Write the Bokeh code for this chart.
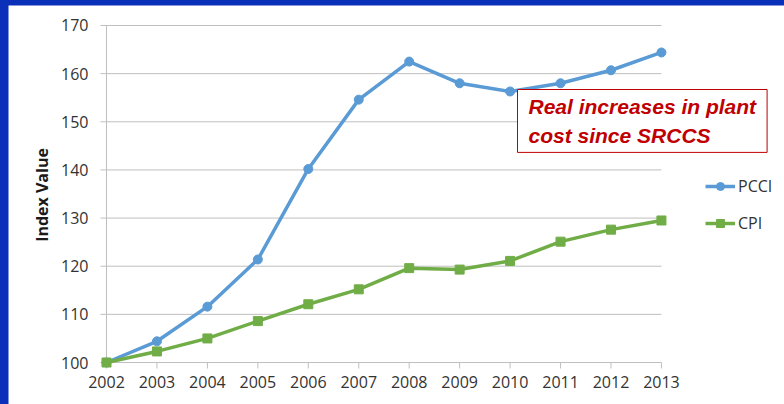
import math
from bokeh.plotting import figure
from bokeh.models import (Range1d, Legend, LegendItem, Label, ColumnDataSource)
from bokeh.core.properties import value
from bokeh.layouts import column
from bokeh.embed import file_html
from bokeh.resources import INLINE

years = [2002, 2003, 2004, 2005, 2006, 2007, 2008, 2009, 2010, 2011, 2012, 2013]
pcci = [100.0, 104.4, 111.6, 121.4, 140.2, 154.6, 162.5, 158.0, 156.3, 158.0, 160.7, 164.4]
cpi = [100.0, 102.3, 105.0, 108.6, 112.1, 115.2, 119.6, 119.3, 121.1, 125.1, 127.6, 129.5]
y_ticks = [100, 110, 120, 130, 140, 150, 160, 170]
series_names = ["PCCI", "CPI"]
y_title = "Index Value"
note_text = "Real increases in plant\ncost since SRCCS"

BLUE = "#5B9BD5"
GREEN = "#70AD47"
GRID = "#BFBFBF"
TXT = "#333333"
FONT = "Open Sans"

# the frame fills the whole figure so nothing is clipped
p = figure(width=776, height=399, output_backend="svg", toolbar_location=None, tools="",
           x_range=Range1d(2000.0575, 2015.439), y_range=Range1d(91.276, 174.154),
           x_axis_type=None, y_axis_type=None, min_border=0)
p.margin = (5, 0, 0, 8)
p.outline_line_color = None
p.background_fill_color = "white"
p.border_fill_color = "white"
p.xgrid.visible = False
p.ygrid.visible = False

x0, x1 = years[0], years[-1]
y0, y1 = y_ticks[0], y_ticks[-1]

# gridlines
gsrc = ColumnDataSource(dict(x0=[x0] * (len(y_ticks) - 1), x1=[x1] * (len(y_ticks) - 1), y=y_ticks[1:]))
p.segment(x0="x0", x1="x1", y0="y", y1="y", source=gsrc, line_color=GRID, line_width=1)
# axis lines
p.segment(x0=[x0, x0], y0=[y0, y0], x1=[x1, x0], y1=[y0, y1], line_color=GRID, line_width=1)
# tick stubs
p.ray(x=years, y=[y0] * len(years), length=6, length_units="screen", angle=-math.pi / 2,
      line_color=GRID, line_width=1)
p.ray(x=[x0] * len(y_ticks), y=y_ticks, length=6, length_units="screen", angle=math.pi,
      line_color=GRID, line_width=1)
# tick labels
p.text(x=years, y=[y0] * len(years), text=[str(v) for v in years], y_offset=13,
       text_align="center", text_baseline="top", text_font=value(FONT),
       text_font_size="16px", text_color=TXT)
p.text(x=[x0] * len(y_ticks), y=y_ticks, text=[str(v) for v in y_ticks], x_offset=-18,
       text_align="right", text_baseline="middle", text_font=value(FONT),
       text_font_size="16px", text_color=TXT)
# axis title
p.text(x=[x0], y=[(y0 + y1) / 2], text=[y_title], x_offset=-64, y_offset=1, angle=math.pi / 2,
       text_align="center", text_baseline="middle", text_font=value(FONT),
       text_font_style="bold", text_font_size="16px", text_color="#1a1a1a")

src = ColumnDataSource(dict(x=years, pcci=pcci, cpi=cpi))
l1 = p.line("x", "pcci", source=src, line_color=BLUE, line_width=3.5)
s1 = p.scatter("x", "pcci", source=src, marker="circle", size=9, fill_color=BLUE, line_color=BLUE)
l2 = p.line("x", "cpi", source=src, line_color=GREEN, line_width=3.5)
s2 = p.scatter("x", "cpi", source=src, marker="square", size=9, fill_color=GREEN, line_color=GREEN)

legend = Legend(items=[LegendItem(label=series_names[0], renderers=[l1, s1]),
                       LegendItem(label=series_names[1], renderers=[l2, s2])],
                location=(697, 170))
legend.border_line_color = None
legend.background_fill_alpha = 0
legend.padding = 0
legend.margin = 0
legend.glyph_width = 30
legend.glyph_height = 20
legend.label_height = 20
legend.spacing = 15
legend.label_standoff = 3
legend.label_text_font = FONT
legend.label_text_font_size = "16px"
legend.label_text_color = TXT
p.add_layout(legend)

note = Label(x=509, y=315, x_units="screen", y_units="screen", text=note_text,
             text_font="Liberation Sans", text_font_style="bold italic", text_font_size="21px",
             text_color="#C00000", text_align="left", text_baseline="top", text_line_height=1.3,
             border_line_color="#C00000", border_line_width=1, background_fill_color="white",
             padding=(11, 5))
p.add_layout(note)

page = column(p, width=784, height=404, styles={"background-color": "#0a2fb8"})
open("out.html", "w").write(file_html(page, INLINE))
